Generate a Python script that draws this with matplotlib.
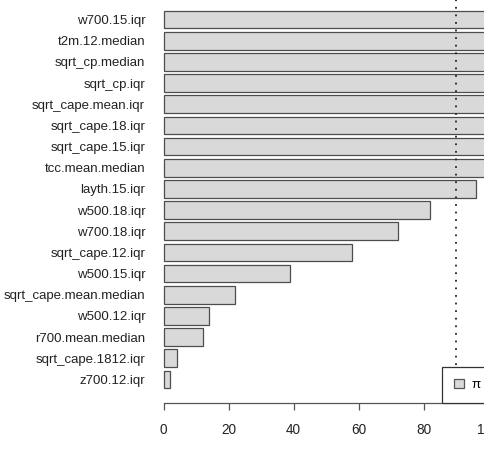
import matplotlib
matplotlib.use("Agg")
import matplotlib.pyplot as plt
from matplotlib.patches import Patch

names = ["w700.15.iqr", "t2m.12.median", "sqrt_cp.median", "sqrt_cp.iqr",
         "sqrt_cape.mean.iqr", "sqrt_cape.18.iqr", "sqrt_cape.15.iqr",
         "tcc.mean.median", "layth.15.iqr", "w500.18.iqr", "w700.18.iqr",
         "sqrt_cape.12.iqr", "w500.15.iqr", "sqrt_cape.mean.median",
         "w500.12.iqr", "r700.mean.median", "sqrt_cape.1812.iqr", "z700.12.iqr"]
values = [100, 100, 100, 100, 100, 100, 100, 100, 96, 82, 72, 58, 39, 22, 14, 12, 4, 2]
threshold = 90
xticks = [0, 20, 40, 60, 80, 100]
legend_label = "π"

plt.rcParams['font.family'] = ['Liberation Sans', 'DejaVu Sans']

W, H = 484, 449
fig = plt.figure(figsize=(W / 100, H / 100), dpi=100)
left_px, right_px = 150.7, 501.7
bot_px, top_px = 403.4, -4.4
ax = fig.add_axes([left_px / W, (H - bot_px) / H,
                   (right_px - left_px) / W, (bot_px - top_px) / H])

n = len(names)
ypos = [(n - 1 - i) * 1.2 + 0.7 for i in range(n)]
ax.barh(ypos, values, height=1.0, color="#d9d9d9", edgecolor="#4d4d4d",
        linewidth=0.9, zorder=2)
ax.axvline(threshold, color="#222222", linewidth=1.3, linestyle=(0, (1, 3.2)), zorder=3)

ax.set_xlim(-4, 104)
ax.set_ylim(0.2 - 0.856, n * 1.2 + 0.856)
ax.set_yticks(ypos)
ax.set_yticklabels(names, fontsize=9.5, color="#222222")
ax.set_xticks(xticks)
ax.set_xticklabels([str(t) for t in xticks], fontsize=9.8, color="#222222")
ax.tick_params(axis='y', length=0, pad=4)
ax.tick_params(axis='x', length=4.8, width=0.9, color="#555555", pad=9)
for s in ["left", "right", "top"]:
    ax.spines[s].set_visible(False)
ax.spines["bottom"].set_bounds(0, 100)
ax.spines["bottom"].set_color("#555555")
ax.spines["bottom"].set_linewidth(0.9)

leg = ax.legend(handles=[Patch(facecolor="#d9d9d9", edgecolor="#555555", linewidth=0.9)],
                labels=[legend_label], loc="lower left",
                bbox_to_anchor=(442 / W, (H - 403.3) / H), bbox_transform=fig.transFigure,
                borderaxespad=0, fancybox=False, framealpha=1, edgecolor="#333333",
                fontsize=9.5, handlelength=0.75, handleheight=0.7, handletextpad=0.6,
                borderpad=0.9)
leg.get_frame().set_linewidth(0.9)
leg.set_zorder(5)

fig.savefig("out.png", dpi=100)
